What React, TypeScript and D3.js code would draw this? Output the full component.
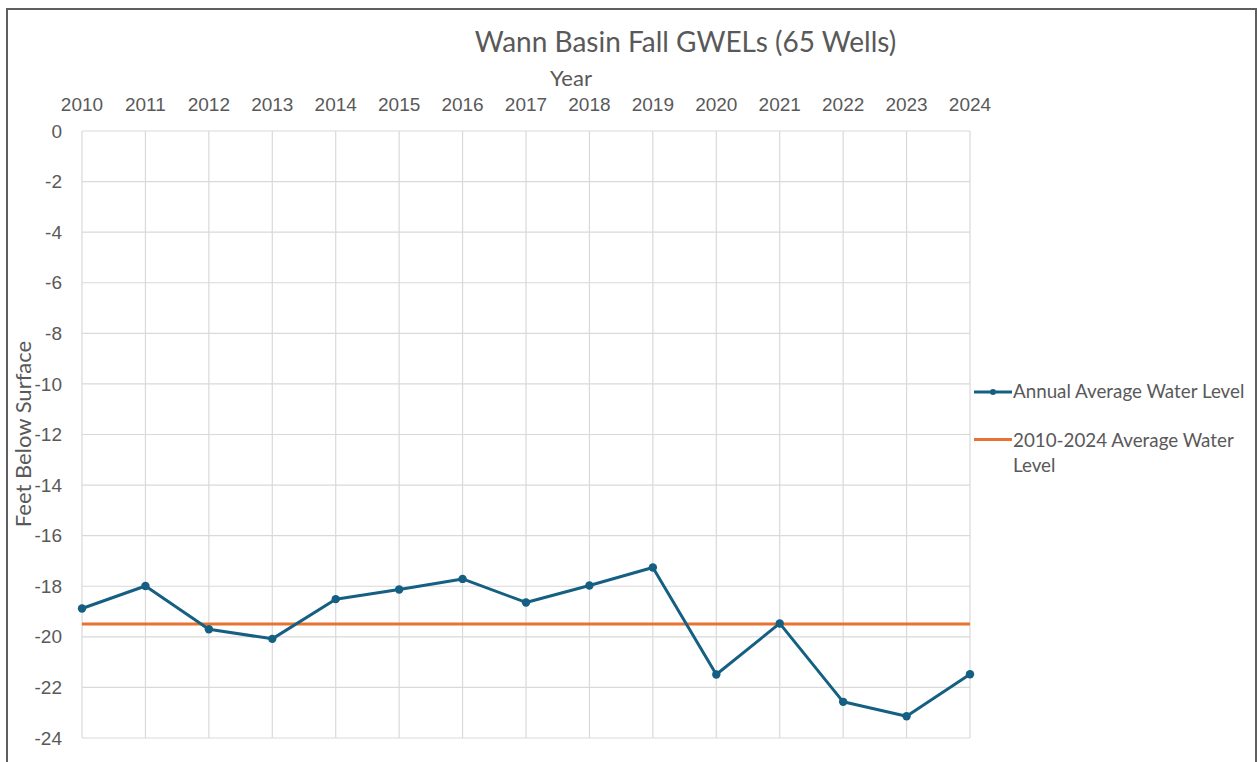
import React from "react";
import * as d3 from "d3";

const years: number[] = [2010, 2011, 2012, 2013, 2014, 2015, 2016, 2017, 2018, 2019, 2020, 2021, 2022, 2023, 2024];
const annualLevel: number[] = [-18.88, -17.99, -19.7, -20.08, -18.51, -18.13, -17.71, -18.64, -17.97, -17.26, -21.49, -19.47, -22.57, -23.14, -21.48];
const periodAverage: number = -19.49;
const yTicks: number[] = [0, -2, -4, -6, -8, -10, -12, -14, -16, -18, -20, -22, -24];

const title = "Wann Basin Fall GWELs (65 Wells)";
const xTitle = "Year";
const yTitle = "Feet Below Surface";
const legend1 = "Annual Average Water Level";
const legend2a = "2010-2024 Average Water";
const legend2b = "Level";

const BLUE = "#156082";
const ORANGE = "#E97132";
const GRID = "#d9d9d9";
const TEXT = "#595959";
const TITLEFONT = "Lato, 'Noto Sans', sans-serif";
const TICKFONT = "'Liberation Sans', Arial, sans-serif";

export default function App() {
  const W = 1257, H = 762;
  const left = 82, right = 970, top = 131, bottom = 738;
  const x = d3.scaleLinear().domain([years[0], years[years.length - 1]]).range([left, right]);
  const y = d3.scaleLinear().domain([0, -24]).range([top, bottom]);
  const line = d3.line<number>().x((_, i) => x(years[i])).y((d) => y(d));

  React.useEffect(() => {
    document.body.style.margin = "0";
  }, []);

  return (
    <svg width={W} height={H} style={{ position: "absolute", left: 0, top: 0, background: "#fff" }}>
      <rect x={0} y={0} width={W} height={H} fill="#fff" />
      <rect x={7} y={9} width={1249} height={800} fill="none" stroke="#5f5f5f" strokeWidth={2} />
      {/* gridlines */}
      {yTicks.map((t) => (
        <line key={"gy" + t} x1={left} x2={right} y1={y(t)} y2={y(t)} stroke={GRID} strokeWidth={1.2} />
      ))}
      {years.map((yr) => (
        <line key={"gx" + yr} x1={x(yr)} x2={x(yr)} y1={top} y2={bottom} stroke={GRID} strokeWidth={1.2} />
      ))}
      {/* y tick labels */}
      {yTicks.map((t) => (
        <text key={"ty" + t} x={62} y={y(t)} dy="0.35em" textAnchor="end" fontFamily={TICKFONT} fontSize={19} fill={TEXT}>
          {t}
        </text>
      ))}
      {/* x tick labels (top) */}
      {years.map((yr) => (
        <text key={"tx" + yr} x={x(yr)} y={111} textAnchor="middle" fontFamily={TICKFONT} fontSize={19} fill={TEXT}>
          {yr}
        </text>
      ))}
      <text x={685.5} y={52} textAnchor="middle" fontFamily={TITLEFONT} fontSize={28} fill={TEXT}>
        {title}
      </text>
      <text x={571} y={86} textAnchor="middle" fontFamily={TITLEFONT} fontSize={22} fill={TEXT}>
        {xTitle}
      </text>
      <text transform={`translate(31,434) rotate(-90)`} textAnchor="middle" fontFamily={TITLEFONT} fontSize={22} fill={TEXT}>
        {yTitle}
      </text>
      {/* average line */}
      <line x1={left} x2={right} y1={y(periodAverage)} y2={y(periodAverage)} stroke={ORANGE} strokeWidth={3} />
      {/* series */}
      <path d={line(annualLevel) || ""} fill="none" stroke={BLUE} strokeWidth={3} strokeLinejoin="round" />
      {annualLevel.map((v, i) => (
        <circle key={"p" + i} cx={x(years[i])} cy={y(v)} r={4.2} fill={BLUE} />
      ))}
      {/* legend */}
      <line x1={974} x2={1012} y1={392} y2={392} stroke={BLUE} strokeWidth={3} />
      <circle cx={993} cy={392} r={3} fill={BLUE} />
      <text x={1013} y={398} fontFamily={TITLEFONT} fontSize={18.8} fill={TEXT}>
        {legend1}
      </text>
      <line x1={974} x2={1012} y1={439.5} y2={439.5} stroke={ORANGE} strokeWidth={3} />
      <text x={1013} y={446.5} fontFamily={TITLEFONT} fontSize={18.8} fill={TEXT}>
        {legend2a}
      </text>
      <text x={1013} y={471.5} fontFamily={TITLEFONT} fontSize={18.8} fill={TEXT}>
        {legend2b}
      </text>
    </svg>
  );
}
